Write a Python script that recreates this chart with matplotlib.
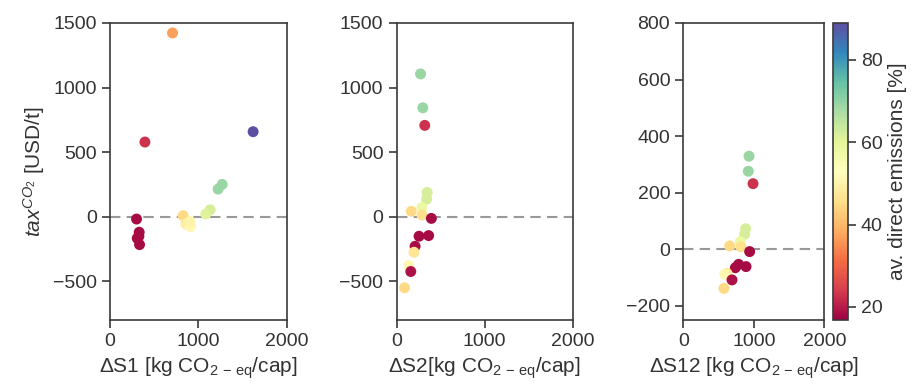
import numpy as np
import matplotlib
matplotlib.use("Agg")
import matplotlib.pyplot as plt
from matplotlib.colors import Normalize

plt.rcParams['font.family'] = ['Liberation Sans', 'DejaVu Sans']
plt.rcParams['mathtext.fontset'] = 'custom'
plt.rcParams['mathtext.rm'] = 'Liberation Sans'
plt.rcParams['mathtext.it'] = 'Liberation Sans:italic'
plt.rcParams['mathtext.bf'] = 'Liberation Sans:bold'

# average share of direct emissions [%] per point
share1 = [37, 23, 89, 69, 69, 62, 61, 45, 49, 51, 50, 18, 18, 18, 18, 18]
# panel 1: dS1 vs tax
ds1 = [708, 396, 1620, 1270, 1224, 1134, 1085, 828, 859, 912, 904, 301, 331, 309, 335, 328]
tax1 = [1422, 578, 658, 250, 214, 54, 21, 8, -56, -77, -38, -18, -120, -167, -216, -151]

share2 = [69, 69, 23, 62, 62, 58, 45, 46, 18, 18, 18, 18, 47, 51, 19, 45]
ds2 = [272, 298, 320, 347, 341, 288, 167, 288, 395, 255, 364, 210, 198, 138, 161, 90]
tax2 = [1105, 843, 707, 188, 136, 72, 42, 13, -13, -151, -146, -229, -275, -378, -424, -550]

share3 = [69, 69, 23, 62, 62, 58, 45, 46, 18, 18, 18, 18, 47, 51, 19, 45]
ds12 = [931, 921, 988, 883, 869, 808, 657, 818, 940, 889, 784, 737, 619, 586, 690, 576]
tax12 = [329, 276, 232, 73, 53, 27, 12, 9, -8, -61, -53, -65, -85, -88, -108, -138]

fig = plt.figure(figsize=(9.16, 3.88), dpi=100)
norm = Normalize(vmin=16.8, vmax=89)
cmap = plt.get_cmap('Spectral')

spine_col = '#3a3a3a'
txt_col = '#333333'
fs = 14

panels = [
    ([0.120, 0.175, 0.193, 0.766], ds1, tax1, share1, (-800, 1500), [-500, 0, 500, 1000, 1500],
     r'$\Delta$S1 [kg CO$_{2\,-\,\mathrm{eq}}$/cap]'),
    ([0.433, 0.175, 0.192, 0.766], ds2, tax2, share2, (-800, 1500), [-500, 0, 500, 1000, 1500],
     r'$\Delta$S2[kg CO$_{2\,-\,\mathrm{eq}}$/cap]'),
    ([0.746, 0.175, 0.154, 0.766], ds12, tax12, share3, (-250, 800), [-200, 0, 200, 400, 600, 800],
     r'$\Delta$S12 [kg CO$_{2\,-\,\mathrm{eq}}$/cap]'),
]

sc = None
for i, (pos, xs, ys, cs, ylim, yt, xl) in enumerate(panels):
    ax = fig.add_axes(pos)
    ax.axhline(0, color='#999999', lw=1.5, ls=(0, (5, 3)), zorder=1)
    sc = ax.scatter(xs, ys, c=cs, cmap=cmap, norm=norm, s=62, linewidths=0, zorder=2)
    ax.set_xlim(0, 2000)
    ax.set_ylim(*ylim)
    ax.set_xticks([0, 1000, 2000])
    ax.set_yticks(yt)
    ax.tick_params(direction='out', length=6, width=1.2, colors=spine_col,
                   labelcolor=txt_col, labelsize=fs)
    for sp in ax.spines.values():
        sp.set_color(spine_col)
        sp.set_linewidth(1.2)
    ax.set_xlabel(xl, fontsize=fs + 1, color=txt_col, labelpad=4)
    if i == 0:
        ax.set_ylabel(r'$tax^{CO_2}$ [USD/t]', fontsize=fs + 1, color=txt_col)

cax = fig.add_axes([0.909, 0.175, 0.0164, 0.766])
cb = fig.colorbar(sc, cax=cax)
cb.set_ticks([20, 40, 60, 80])
cb.outline.set_edgecolor(spine_col)
cb.outline.set_linewidth(1.2)
cax.tick_params(direction='out', length=6, width=1.2, colors=spine_col,
                labelcolor=txt_col, labelsize=fs)
cb.set_label('av. direct emissions [%]', fontsize=fs + 1, color=txt_col)

fig.savefig('out.png', dpi=100)
